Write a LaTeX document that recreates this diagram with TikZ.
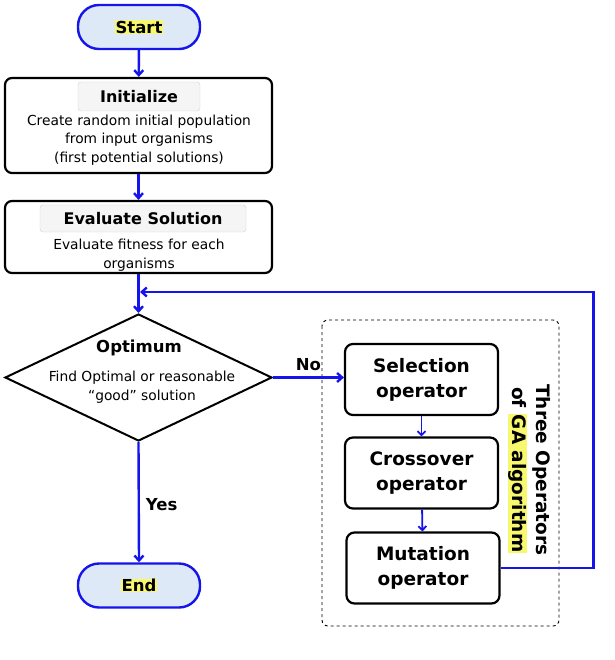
\documentclass[tikz,border=0pt]{standalone}
\usepackage{fontspec}
\setmainfont{DejaVu Sans}
\usepackage{xcolor}
\usetikzlibrary{arrows.meta,positioning,shapes.geometric,calc}
\definecolor{gablue}{RGB}{20,20,235}
\definecolor{gafill}{RGB}{221,233,246}
\definecolor{gahlcol}{RGB}{248,248,110}
\newcommand{\gahl}[1]{{\setlength{\fboxsep}{0.5pt}\colorbox{gahlcol}{#1}}}
\tikzset{
  gaterm/.style={draw=gablue, line width=2.4pt, fill=gafill, rounded corners=21pt, minimum width=122pt, minimum height=44pt, inner sep=0pt, font=\bfseries\fontsize{16.5}{18}\selectfont},
  gabox/.style={draw, line width=2.2pt, rounded corners=7pt, minimum width=267pt, inner sep=0pt},
  gatitle/.style={draw=black!18, fill=black!4, rounded corners=3pt, inner sep=0pt, font=\bfseries\fontsize{16}{18}\selectfont},
  gatext/.style={align=center, inner sep=0pt, font=\fontsize{13.8}{18.5}\selectfont},
  gaop/.style={draw, line width=2.2pt, rounded corners=8pt, minimum width=153pt, minimum height=71pt, align=center, inner sep=0pt, font=\bfseries\fontsize{18.5}{25}\selectfont},
  gaarrow/.style={-{Straight Barb[length=5pt,width=9pt]}, draw=gablue, line width=2.4pt},
  gathin/.style={-{Straight Barb[length=4pt,width=8pt]}, draw=gablue, line width=1.8pt},
  galabel/.style={inner sep=0pt, font=\bfseries\fontsize{16.5}{18}\selectfont},
  gadash/.style={draw, dashed, rounded corners=6pt, line width=0.9pt}
}

\begin{document}
\begin{tikzpicture}[x=1pt,y=-1pt]
\useasboundingbox (0,0) rectangle (614,660);
% main column
\node[gaterm] (start) at (139,27) {\gahl{Start}};
\node[gabox, minimum height=95pt] (init) at (138.5,125.5) {};
\node[gatitle, minimum width=122pt, minimum height=29pt] (inittitle) at (139,96.5) {Initialize};
\node[gatext] (inittext) at (139,140) {Create random initial population\\from input organisms\\(first potential solutions)};
\node[gabox, minimum height=72pt] (eval) at (138.5,237) {};
\node[gatitle, minimum width=206pt, minimum height=27pt] (evaltitle) at (143,218.5) {Evaluate Solution};
\node[gatext] (evaltext) at (139,255) {Evaluate fitness for each\\organisms};
\node[diamond, draw, line width=2pt, minimum width=267pt, minimum height=127pt, inner sep=0pt] (opt) at (138.5,377.5) {};
\node[galabel] (opttitle) at (139,348) {Optimum};
\node[gatext] (opttext) at (142,387) {Find Optimal or reasonable\\“good” solution};
\node[gaterm] (end) at (139,585.5) {\gahl{End}};

% operators
\draw[gadash] (322,320) rectangle (559,626);
\node[gaop] (sel) at (421.5,379.5) {Selection\\operator};
\node[gaop] (cross) at (421.5,473) {Crossover\\operator};
\node[gaop] (mut) at (423,568) {Mutation\\operator};
\node[rotate=-90, align=center, inner sep=0pt, font=\bfseries\fontsize{18.5}{24}\selectfont] (opslabel) at (529,470) {Three Operators\\of \gahl{GA algorithm}};

% connectors
\coordinate (gajoin) at (140,292);
\draw[gaarrow] (start) -- (init);
\draw[gaarrow] (init) -- (eval);
\draw[gaarrow] (eval) -- (opt);
\draw[gaarrow] (opt.east) -- node[galabel, above=6pt] (nolabel) {No} (opt.east -| sel.west);
\draw[gaarrow] (opt.south) -- node[galabel, right=6pt, pos=0.52] (yeslabel) {Yes} (end.north);
\draw[gathin] (sel) -- (cross);
\draw[gathin] (cross) -- (mut);
\draw[gaarrow] (mut.east) -- ++(93,0) |- (gajoin);
\end{tikzpicture}
\end{document}
